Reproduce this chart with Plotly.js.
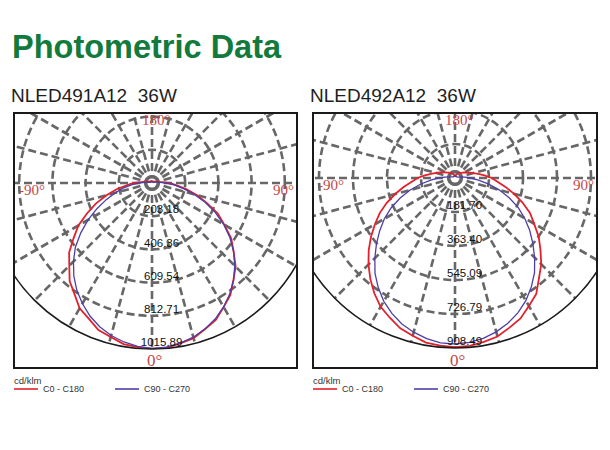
<!DOCTYPE html>
<html><head><meta charset="utf-8">
<script src="https://cdn.plot.ly/plotly-3.0.1.min.js"></script>
<style>
html,body{margin:0;padding:0;background:#fff;width:610px;height:450px;overflow:hidden;position:relative;}
.clip{position:absolute;overflow:hidden;background:#fff;}
.pl{position:absolute;}
#overlay{position:absolute;left:0;top:0;width:610px;height:450px;z-index:5;pointer-events:none;}
</style></head><body>
<div class="clip" id="c1"><div class="pl" id="g1"></div></div>
<div class="clip" id="c2"><div class="pl" id="g2"></div></div>
<div id="overlay"></div>
<script>
// ---------------- data ----------------
const chartTitle = "Photometric Data";
const panelTitles = ["NLED491A12\u00a0\u00a036W", "NLED492A12\u00a0\u00a036W"];
const seriesNames = ["C0 - C180", "C90 - C270"];
const unitLabel = "cd/klm";
const angleLabels = ["-90°", "90°", "0°", "180°"];

// gamma angles (degrees)
const gammaAngles = [-180,-175,-170,-165,-160,-155,-150,-145,-140,-135,-130,-125,-120,-115,-110,-105,-100,-95,-90,-85,-80,-75,-70,-65,-60,-55,-50,-45,-40,-35,-30,-25,-20,-15,-10,-5,0,
  5,10,15,20,25,30,35,40,45,50,55,60,65,70,75,80,85,90,95,100,105,110,115,120,125,130,135,140,145,150,155,160,165,170,175,180];

// NLED491A12 36W
const leftTicks = [203.18, 406.36, 609.54, 812.71, 1015.89];
const leftTickLabels = ["203.18", "406.36", "609.54", "812.71", "1015.89"];
const leftC0 = [10,10,11,10,11,12,11,12,13,13,14,16,18,21,27,34,45,66,112,152,220,288,364,438,520,585,662,716,784,828,886,916,958,976,1001,1008,1015,
  1012,996,983,951,924,877,836,775,724,652,592,512,444,356,283,212,148,104,60,40,31,24,19,17,15,14,13,12,12,11,11,10,10,10,10,10];
const leftC90 = [8,8,8,8,8,8,8,8,8,8,9,9,10,11,13,18,28,45,76,122,180,232,298,372,452,532,612,680,744,802,852,898,936,966,988,1004,1012,
  1008,995,977,950,917,876,829,777,716,652,582,506,428,346,266,196,136,86,50,30,19,13,10,9,8,8,8,8,8,8,8,8,8,8,8,8];

// NLED492A12 36W
const rightTicks = [181.70, 363.40, 545.09, 726.79, 908.49];
const rightTickLabels = ["181.70", "363.40", "545.09", "726.79", "908.49"];
const rightC0 = [5,8,12,15,20,23,28,31,36,39,44,51,61,73,86,104,130,162,200,232,279,331,388,444,494,548,602,654,704,752,795,824,855,873,893,899,904,
  901,889,877,851,828,790,757,698,652,596,546,488,442,384,327,274,228,196,158,126,101,84,71,59,50,43,38,35,31,27,23,19,15,11,8,5];
const rightC90 = [11,11,11,11,11,11,11,11,11,11,11,11,12,14,17,22,33,54,88,130,185,248,312,376,436,491,548,606,665,715,761,798,830,853,872,884,887,
  882,870,851,826,795,757,711,661,602,543,487,430,372,308,244,180,126,84,52,31,20,15,13,12,11,11,11,11,11,11,11,11,11,11,11,11];

// ---------------- styling / geometry ----------------
const RED = '#e3202b', BLUE = '#4d3fa6', GRID = '#676767', ANG = '#c4474a';
const panels = [
  {clip:'c1', div:'g1', box:[14,113,297,368], cx:152, cy:183, R:166, ticks:leftTicks, tickLabels:leftTickLabels, c0:leftC0, c90:leftC90},
  {clip:'c2', div:'g2', box:[313,113,597,368], cx:455, cy:178, R:170, ticks:rightTicks, tickLabels:rightTickLabels, c0:rightC0, c90:rightC90}
];
const PAD = 10;
const NB = '\u00a0\u00a0\u00a0\u00a0\u00a0\u00a0';

panels.forEach(p => {
  const c = document.getElementById(p.clip);
  c.style.left = p.box[0] + 'px'; c.style.top = p.box[1] + 'px';
  c.style.width = (p.box[2]-p.box[0]) + 'px'; c.style.height = (p.box[3]-p.box[1]) + 'px';
  const g = document.getElementById(p.div);
  const size = 2*p.R + 2*PAD;
  g.style.width = size + 'px'; g.style.height = size + 'px';
  g.style.left = (p.cx - p.R - PAD - p.box[0]) + 'px';
  g.style.top = (p.cy - p.R - PAD - p.box[1]) + 'px';
  const rmax = p.ticks[p.ticks.length-1];
  const traces = [
    {type:'scatterpolar', mode:'markers', r:[0], theta:[0], marker:{size:9, color:'#fff'}},
    {type:'scatterpolar', mode:'lines', r:p.c0, theta:gammaAngles, name:seriesNames[0],
     line:{color:RED, width:1.8}},
    {type:'scatterpolar', mode:'lines', r:p.c90, theta:gammaAngles, name:seriesNames[1],
     line:{color:BLUE, width:1.3}},
    {type:'scatterpolar', mode:'text', r:p.ticks, theta:p.ticks.map(()=>0), text:p.tickLabels.map(s => NB + s),
     textposition:'top center', textfont:{family:'Liberation Sans, Arial', size:11.5, color:'#111'}, cliponaxis:false}
  ];
  const layout = {
    width:size, height:size, margin:{l:PAD,r:PAD,t:PAD,b:PAD,pad:0},
    paper_bgcolor:'rgba(0,0,0,0)', showlegend:false,
    polar:{
      domain:{x:[0,1], y:[0,1]}, bgcolor:'#fff',
      angularaxis:{rotation:-90, direction:'counterclockwise', tickmode:'linear', tick0:0, dtick:15,
        showticklabels:false, ticks:'', showgrid:true, gridcolor:GRID, gridwidth:2.6, griddash:'8px,4px',
        showline:true, linecolor:'#1a1a1a', linewidth:1.6},
      radialaxis:{range:[0, rmax], autorange:false, tickmode:'array', tickvals:p.ticks.slice(0,-1),
        showticklabels:false, ticks:'', showline:false, showgrid:true, gridcolor:GRID, gridwidth:2.6, griddash:'8px,4px'}
    }
  };
  Plotly.newPlot(g, traces, layout, {staticPlot:true, displayModeBar:false});
});

// ---------------- overlay: titles, labels, frames, legend ----------------
const W = 610, H = 450;
const X = px => px / W, Y = py => 1 - py / H;
const ann = [];
const shapes = [];
function txt(t, x, y, size, color, family, xa){
  ann.push({text:t, x:X(x), y:Y(y), xref:'paper', yref:'paper', showarrow:false,
    xanchor:xa||'left', yanchor:'middle', font:{size:size, color:color, family:family}});
}
const sans = 'Liberation Sans, Arial', serif = 'Liberation Serif, Times New Roman';
txt('<b>'+chartTitle+'</b>', 10, 47, 32.5, '#127a3c', sans);
panels.forEach((p, i) => {
  const bx = p.box[0];
  txt(panelTitles[i], bx - 5, 95, 19, '#1e1e1e', sans);
  shapes.push({type:'rect', xref:'paper', yref:'paper', x0:X(p.box[0]), x1:X(p.box[2]), y0:Y(p.box[1]), y1:Y(p.box[3]),
    line:{color:'#1a1a1a', width:2}, fillcolor:'rgba(0,0,0,0)'});
  txt(angleLabels[0], bx + 3, p.cy + 7, 15, ANG, serif, 'left');
  txt(angleLabels[1], p.box[2] - 1, p.cy + 7, 15, ANG, serif, 'right');
  txt(angleLabels[2], p.cx + 2, 360, 17, ANG, serif, 'center');
  txt(angleLabels[3], p.cx + 4, p.box[1] + 7, 15, ANG, serif, 'center');
  // legend
  txt(unitLabel, bx - 2, 380, 9.5, '#333', sans);
  shapes.push({type:'line', xref:'paper', yref:'paper', x0:X(bx), x1:X(bx+24), y0:Y(389), y1:Y(389), line:{color:RED, width:1.6}});
  txt(seriesNames[0], bx + 27, 389, 9, '#333', sans);
  shapes.push({type:'line', xref:'paper', yref:'paper', x0:X(bx+101), x1:X(bx+125), y0:Y(389), y1:Y(389), line:{color:BLUE, width:1.6}});
  txt(seriesNames[1], bx + 128, 389, 9, '#333', sans);
});
Plotly.newPlot('overlay', [], {
  width:W, height:H, margin:{l:0,r:0,t:0,b:0}, paper_bgcolor:'rgba(0,0,0,0)', plot_bgcolor:'rgba(0,0,0,0)',
  xaxis:{visible:false, range:[0,1]}, yaxis:{visible:false, range:[0,1]}, annotations:ann, shapes:shapes, showlegend:false
}, {staticPlot:true, displayModeBar:false});
</script>
</body></html>
